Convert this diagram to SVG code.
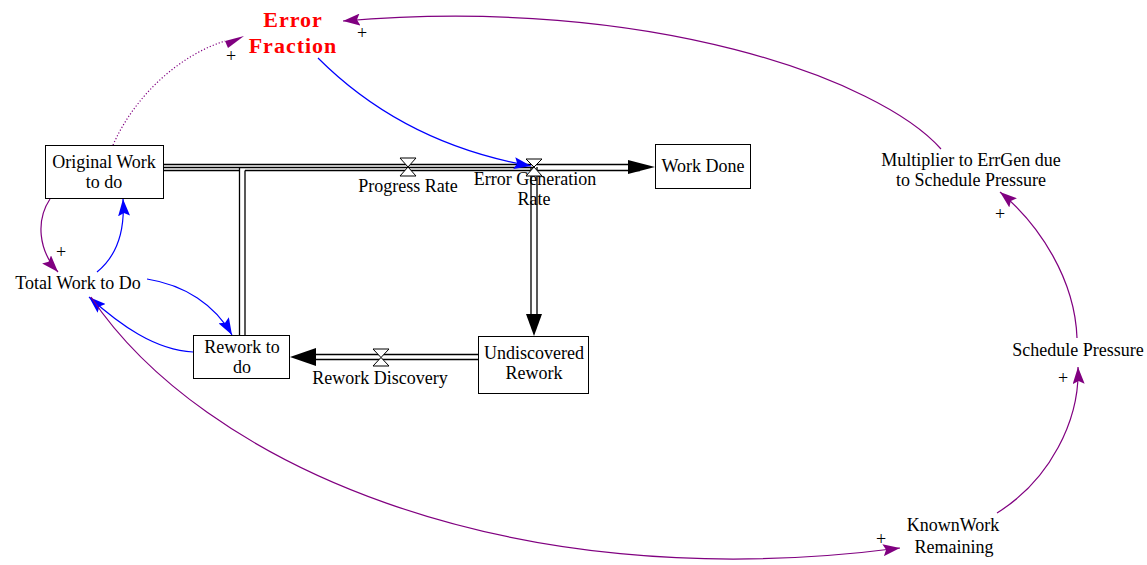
<svg xmlns="http://www.w3.org/2000/svg" width="1147" height="565" viewBox="0 0 1147 565">
<style>
text{font-family:"Liberation Serif","Times New Roman",serif;font-size:18px;fill:#000;text-anchor:middle}
.box{fill:#fff;stroke:#000;stroke-width:1}
.pipe{stroke:#000;stroke-width:1.3;fill:none}
.valve{fill:#fff;stroke:#000;stroke-width:1}
.bl{stroke:#0000ff;stroke-width:1.2;fill:none}
.pu{stroke:#800080;stroke-width:1.2;fill:none}
.ef{font-weight:bold;fill:#ff0000;font-size:22px;letter-spacing:1px}
</style>
<defs>
<marker id="ab" markerUnits="userSpaceOnUse" markerWidth="18" markerHeight="12" refX="17" refY="6" orient="auto"><path d="M0,0 L17,6 L0,12 L3,6 z" fill="#0000ff"/></marker>
<marker id="ap" markerUnits="userSpaceOnUse" markerWidth="18" markerHeight="12" refX="17" refY="6" orient="auto"><path d="M0,0 L17,6 L0,12 L3,6 z" fill="#800080"/></marker>
</defs>
<g id="connectors">
<path class="pipe" d="M164,164.5 H640 M164,167.5 H534 M164,170.5 H239.5 M245,170.5 H640"/>
<path class="pipe" d="M239.5,167.5 V335 M245,170.5 V335"/>
<path class="pipe" d="M531,167 V314 M537,167 V314"/>
<path class="pipe" d="M478,354.5 H314 M478,359.5 H314"/>
<path d="M628,160 L655,167 L628,174 z" fill="#000"/>
<path d="M526,314 L534,336 L542,314 z" fill="#000"/>
<path d="M316,348 L290,357 L316,366 z" fill="#000"/>
<path class="pu" stroke-dasharray="1.2,2" d="M113,145 C135,95 180,55 225,41"/>
<path d="M225,41 L244,36 L228,48 z" fill="#800080"/>
<path class="pu" marker-end="url(#ap)" d="M941,149 C880,80 650,-5 343,21"/>
<path class="bl" marker-end="url(#ab)" d="M318,58 C370,110 440,150 531,166"/>
<path class="pu" marker-end="url(#ap)" d="M50,199 C36,220 38,250 58,272"/>
<path class="bl" marker-end="url(#ab)" d="M97,272 C118,255 125,230 123,199"/>
<path class="bl" marker-end="url(#ab)" d="M147,279 C185,285 215,305 232,335"/>
<path class="bl" marker-end="url(#ab)" d="M193,352 C155,350 120,325 89,297"/>
<path class="pu" marker-end="url(#ap)" d="M91,297 C200,460 500,600 900,548"/>
<path class="pu" marker-end="url(#ap)" d="M997,513 C1050,480 1080,420 1078,367"/>
<path class="pu" marker-end="url(#ap)" d="M1077,338 C1075,280 1040,225 1000,192"/>
<text x="231" y="62">+</text>
<text x="362" y="39">+</text>
<text x="61" y="258">+</text>
<text x="1000" y="220">+</text>
<text x="1063" y="384">+</text>
<text x="881" y="545">+</text>
</g>
<g id="progress-rate">
<path class="valve" d="M400,158 H416 L408,167 z M400,176 H416 L408,167 z"/>
<text x="408" y="192">Progress Rate</text>
</g>
<g id="error-generation-rate">
<path class="valve" d="M526,159 H542 L534,167 z M526,176 H542 L534,167 z"/>
<text x="535" y="185">Error Generation</text>
<text x="534" y="205">Rate</text>
</g>
<g id="rework-discovery">
<path class="valve" d="M373,349 H389 L381,357.5 z M373,366 H389 L381,357.5 z"/>
<text x="380" y="384">Rework Discovery</text>
</g>
<g id="original-work">
<rect class="box" x="45.5" y="145.5" width="118" height="53"/>
<text x="104" y="168">Original Work</text>
<text x="104" y="188">to do</text>
</g>
<g id="work-done">
<rect class="box" x="655.5" y="144.5" width="95" height="44"/>
<text x="703" y="172">Work Done</text>
</g>
<g id="rework-to-do">
<rect class="box" x="193.5" y="335.5" width="96" height="43"/>
<text x="242" y="353">Rework to</text>
<text x="242" y="373">do</text>
</g>
<g id="undiscovered-rework">
<rect class="box" x="478.5" y="336.5" width="110" height="57"/>
<text x="534" y="359">Undiscovered</text>
<text x="534" y="379">Rework</text>
</g>
<g id="error-fraction">
<text class="ef" x="293" y="27">Error</text>
<text class="ef" x="293" y="53">Fraction</text>
</g>
<g id="total-work">
<text x="78" y="289">Total Work to Do</text>
</g>
<g id="multiplier">
<text x="971" y="166">Multiplier to ErrGen due</text>
<text x="971" y="186">to Schedule Pressure</text>
</g>
<g id="schedule-pressure">
<text x="1078" y="356">Schedule Pressure</text>
</g>
<g id="known-work">
<text x="953" y="531">KnownWork</text>
<text x="954" y="553">Remaining</text>
</g>
</svg>
